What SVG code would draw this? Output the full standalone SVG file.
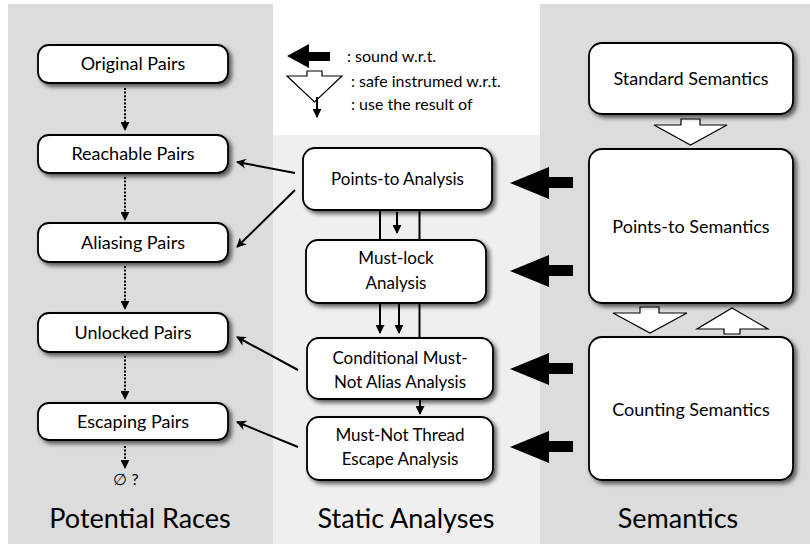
<svg xmlns="http://www.w3.org/2000/svg" width="810" height="544" viewBox="0 0 810 544">
<defs>
<filter id="sh" x="-10%" y="-10%" width="130%" height="140%">
<feDropShadow dx="3" dy="3" stdDeviation="2.2" flood-color="#000" flood-opacity="0.6"/>
</filter>
<marker id="ah" viewBox="0 0 10 10" refX="9" refY="5" markerWidth="9" markerHeight="9" markerUnits="userSpaceOnUse" orient="auto">
<path d="M0,0 L10,5 L0,10 z" fill="#000"/>
</marker>
<marker id="ah2" viewBox="0 0 10 10" refX="9" refY="5" markerWidth="10" markerHeight="10" markerUnits="userSpaceOnUse" orient="auto">
<path d="M0,0 L10,5 L0,10 L3,5 z" fill="#000"/>
</marker>
</defs>
<style>
.box{fill:#fff;stroke:#000;stroke-width:1.8;filter:url(#sh)}
text{font-family:Lato,"Open Sans","Liberation Sans",sans-serif;fill:#000}
.t{font-size:17px;text-anchor:middle}
.tl{font-size:18px;text-anchor:middle}
.lg{font-size:16px}
.title{font-size:27px;text-anchor:middle}
.dot{stroke:#000;stroke-width:2;stroke-dasharray:2,1.6;fill:none}
.ln{stroke:#000;stroke-width:2;fill:none}
.big{fill:#000}
.hol{fill:#fff;stroke:#000;stroke-width:1.2}
</style>
<rect width="810" height="544" fill="#fff"/>
<rect x="8" y="4" width="265" height="540" fill="#dcdcdc"/>
<rect x="273" y="135" width="267" height="409" fill="#efefef"/>
<rect x="540" y="4" width="270" height="540" fill="#dcdcdc"/>

<g id="legend">
<path class="big" d="M287,56 L309,44 L309,52 L330,52 L330,61 L309,61 L309,68 z"/>
<text class="lg" x="347" y="62">:  sound w.r.t.</text>
<path class="hol" d="M307,71 L322,71 L322,76 L342,76 L314.5,102 L287,76 L307,76 z"/>
<text class="lg" x="351" y="87">:  safe instrumed w.r.t.</text>
<line class="ln" x1="317" y1="97" x2="317" y2="117" marker-end="url(#ah)"/>
<text class="lg" x="351" y="110">:  use the result of</text>
</g>

<g id="connectors">
<line class="dot" x1="125" y1="88" x2="125" y2="130" marker-end="url(#ah)"/>
<line class="dot" x1="125" y1="177" x2="125" y2="220" marker-end="url(#ah)"/>
<line class="dot" x1="125" y1="266" x2="125" y2="309" marker-end="url(#ah)"/>
<line class="dot" x1="125" y1="356" x2="125" y2="399" marker-end="url(#ah)"/>
<line class="dot" x1="125" y1="446" x2="125" y2="468" marker-end="url(#ah)"/>
<line class="ln" x1="295" y1="173" x2="237" y2="162" marker-end="url(#ah2)"/>
<line class="ln" x1="295" y1="190" x2="237" y2="247" marker-end="url(#ah2)"/>
<line class="ln" x1="298" y1="370" x2="237" y2="337" marker-end="url(#ah2)"/>
<line class="ln" x1="298" y1="447" x2="237" y2="422" marker-end="url(#ah2)"/>
<line class="ln" x1="380" y1="210" x2="380" y2="333" marker-end="url(#ah)"/>
<line class="ln" x1="419.5" y1="210" x2="419.5" y2="338"/>
<line class="ln" x1="397" y1="212" x2="397" y2="233" marker-end="url(#ah)"/>
<line class="ln" x1="399" y1="303" x2="399" y2="333" marker-end="url(#ah)"/>
<line class="ln" x1="420" y1="399" x2="420" y2="414" marker-end="url(#ah)"/>
<path class="big" d="M510,183 L549,167 L549,177 L573,177 L573,188 L549,188 L549,199 z"/>
<path class="big" d="M510,271 L549,255 L549,265 L573,265 L573,276 L549,276 L549,287 z"/>
<path class="big" d="M510,369 L549,353 L549,363 L573,363 L573,374 L549,374 L549,385 z"/>
<path class="big" d="M510,447 L549,431 L549,441 L573,441 L573,452 L549,452 L549,463 z"/>
<path class="hol" d="M681,119 L700,119 L700,125 L727,125 L690.5,145 L654,125 L681,125 z"/>
<path class="hol" d="M640,307 L659,307 L659,313 L687,313 L650,333 L613,313 L640,313 z"/>
<path class="hol" d="M732,308 L768,329 L740,329 L740,334 L724,334 L724,329 L697,329 z"/>
</g>

<g id="n-original"><rect class="box" x="38" y="45" width="190" height="38" rx="11"/><text class="tl" x="133" y="70">Original Pairs</text></g>
<g id="n-reachable"><rect class="box" x="38" y="135" width="190" height="38" rx="11"/><text class="tl" x="133" y="160">Reachable Pairs</text></g>
<g id="n-aliasing"><rect class="box" x="38" y="223" width="190" height="39" rx="11"/><text class="tl" x="133" y="249">Aliasing Pairs</text></g>
<g id="n-unlocked"><rect class="box" x="38" y="313" width="190" height="39" rx="11"/><text class="tl" x="133" y="339">Unlocked Pairs</text></g>
<g id="n-escaping"><rect class="box" x="38" y="403" width="190" height="37" rx="11"/><text class="tl" x="133" y="428">Escaping Pairs</text></g>
<text id="empty" class="t" x="126" y="485" style="font-size:16px">∅ ?</text>

<g id="n-pta"><rect class="box" x="303" y="148" width="189" height="62" rx="12"/><text class="t" x="397.5" y="185">Points-to Analysis</text></g>
<g id="n-mustlock"><rect class="box" x="306" y="240" width="180" height="63" rx="12"/><text class="t" x="396" y="264">Must-lock</text><text class="t" x="396" y="289">Analysis</text></g>
<g id="n-cmna"><rect class="box" x="307" y="338" width="186" height="61" rx="12"/><text class="t" x="400" y="364">Conditional Must-</text><text class="t" x="400" y="388">Not Alias Analysis</text></g>
<g id="n-mnte"><rect class="box" x="307" y="417" width="186" height="63" rx="12"/><text class="t" x="400" y="441">Must-Not Thread</text><text class="t" x="400" y="465">Escape Analysis</text></g>

<g id="n-standard"><rect class="box" x="589" y="43" width="204" height="71" rx="13"/><text class="tl" x="691" y="85">Standard Semantics</text></g>
<g id="n-ptsem"><rect class="box" x="589" y="149" width="204" height="154" rx="13"/><text class="tl" x="691" y="233">Points-to Semantics</text></g>
<g id="n-counting"><rect class="box" x="589" y="337" width="204" height="143" rx="13"/><text class="tl" x="691" y="416">Counting Semantics</text></g>

<text class="title" x="140" y="528">Potential Races</text>
<text class="title" x="406" y="528">Static Analyses</text>
<text class="title" x="678" y="528">Semantics</text>
</svg>
